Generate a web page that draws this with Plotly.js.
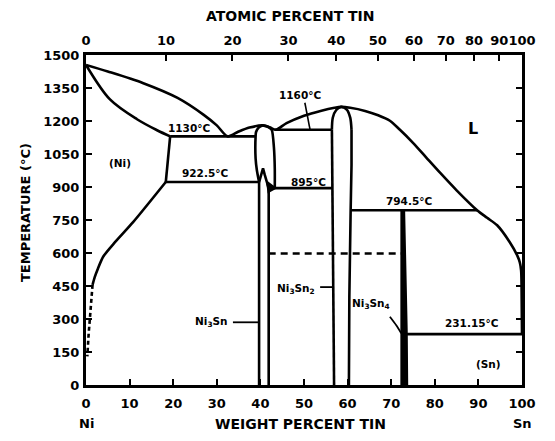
<!DOCTYPE html>
<html>
<head>
<meta charset="utf-8">
<script src="https://cdn.plot.ly/plotly-3.0.1.min.js"></script>
<style>
  html, body { margin: 0; padding: 0; background: #fff; }
  #chart { width: 555px; height: 441px; }
</style>
</head>
<body>
<div id="chart"></div>
<script>
// Ni–Sn equilibrium phase diagram (weight percent tin vs temperature)

// Axis ticks
const wtTicks = [0, 10, 20, 30, 40, 50, 60, 70, 80, 90, 100];
const tempTicks = [0, 150, 300, 450, 600, 750, 900, 1050, 1200, 1350, 1500];
const atTicks = [0, 10, 20, 30, 40, 50, 60, 70, 80, 90, 100];
const atomicMassNi = 58.69;
const atomicMassSn = 118.71;

// Liquidus, Ni side to Sn side
const liquidusWt = [0, 5, 13, 21, 27, 30, 32.5, 35, 37.5, 40.5, 42.3, 43.5, 46, 50, 54, 57, 58.5, 60.6, 64, 67, 69.7, 72, 75, 78, 81.2, 85, 89.7, 92, 94.3, 97.2, 98.9, 99.5, 99.8, 99.9, 100];
const liquidusT  = [1455, 1425, 1373, 1305, 1228, 1180, 1130, 1152, 1170, 1180, 1170, 1160, 1190, 1224, 1247, 1260, 1264, 1260, 1246, 1226, 1201, 1160, 1101, 1035, 965, 885, 794.5, 760, 726, 649, 589, 557, 520, 450, 232];

// (Ni) solidus and solvus
const niSolidusWt = [0, 5.5, 11.7, 16.3, 19.3];
const niSolidusT  = [1455, 1298, 1208, 1158, 1130];
const niSolvusHighWt = [19.3, 18.3];
const niSolvusHighT  = [1130, 922.5];
const niSolvusWt = [18.3, 10.8, 6.6, 4, 2.75, 2, 1.5];
const niSolvusT  = [922.5, 740, 648, 585, 530, 490, 455];
const niSolvusDashWt = [1.5, 1.0, 0.6, 0.3];
const niSolvusDashT  = [455, 340, 230, 130];

// Invariant reactions
const eut1130Wt = [19.3, 38.9];
const eut1130T  = [1130, 1130];
const eutd922Wt = [18.3, 39.7];
const eutd922T  = [922.5, 922.5];
const eut1160Wt = [43.3, 56.4];
const eut1160T  = [1160, 1160];
const line895Wt = [41.9, 56.5];
const line895T  = [895, 895];
const perit794Wt = [60.7, 89.7];
const perit794T  = [794.5, 794.5];
const eut231Wt = [73.6, 100];
const eut231T  = [231.15, 231.15];
const dash600Wt = [41.9, 72.4];
const dash600T  = [598, 598];

// Ni3Sn (high and low temperature) fields
const ni3SnHtLeftWt = [40.5, 39.6, 39.0, 38.9, 38.9, 39.2, 39.7];
const ni3SnHtLeftT  = [1180, 1170, 1150, 1130, 1030, 975, 922.5];
const ni3SnHtRightWt = [40.5, 41.6, 42.6, 43.1, 43.3, 43.3];
const ni3SnHtRightT  = [1180, 1175, 1160, 1080, 980, 895];
const ni3SnSpikeWt = [39.7, 40.6, 41.0, 41.9];
const ni3SnSpikeT  = [922.5, 985, 955, 895];
const ni3SnLtLeftWt = [39.7, 39.7];
const ni3SnLtLeftT  = [922.5, 0];
const ni3SnLtRightWt = [41.9, 41.9];
const ni3SnLtRightT  = [895, 0];
const ni3SnBlobWt = [41.6, 43.3, 41.9, 41.6];
const ni3SnBlobT  = [920, 895, 880, 920];

// Ni3Sn2 field
const ni3Sn2DomeWt = [56.4, 56.6, 57.4, 58.5, 59.8, 60.6, 60.9];
const ni3Sn2DomeT  = [1160, 1215, 1250, 1264, 1252, 1215, 1160];
const ni3Sn2RightWt = [60.9, 60.9, 60.7, 60.4, 60.3];
const ni3Sn2RightT  = [1160, 1000, 794.5, 400, 0];
const ni3Sn2LeftWt = [56.4, 56.5, 56.8, 56.9];
const ni3Sn2LeftT  = [1160, 895, 400, 0];

// Ni3Sn4 field
const ni3Sn4Wt = [72.4, 72.9, 73.5, 73.6, 72.4, 72.4];
const ni3Sn4T  = [794.5, 794.5, 240, 0, 0, 794.5];

// Label leaders
const lead1160Wt = [50.2, 51.4];
const lead1160T  = [1283, 1160];
const leadNi3SnWt = [33.7, 39.7];
const leadNi3SnT  = [285, 285];
const leadNi3Sn2Wt = [53.7, 56.8];
const leadNi3Sn2T  = [445, 445];
const leadNi3Sn4Wt = [69.7, 71.2, 72.3];
const leadNi3Sn4T  = [310, 270, 235];

// Text labels inside the field
const labelText = ['1130°C', '922.5°C', '1160°C', '895°C', '794.5°C', '231.15°C', '(Ni)', '(Sn)', 'Ni<sub>3</sub>Sn', 'Ni<sub>3</sub>Sn<sub>2</sub>', 'Ni<sub>3</sub>Sn<sub>4</sub>'];
const labelWt   = [23.6, 27.3, 49.1, 51.1, 74.1, 88.5, 7.8, 92.4, 28.7, 48.2, 65.4];
const labelT    = [1170, 962, 1318, 925, 835, 281, 1010, 95, 288, 438, 366];

const FONT = 'DejaVu Sans, Liberation Sans, Arial, sans-serif';
const W = 2.6;

function line(x, y, opts) {
  opts = opts || {};
  return Object.assign({
    x: x, y: y, type: 'scatter', mode: 'lines',
    line: {
      color: '#000', width: opts.width || W,
      shape: opts.smooth ? 'spline' : 'linear', smoothing: opts.smooth || 1,
      dash: opts.dash || 'solid'
    },
    hoverinfo: 'skip', showlegend: false
  }, opts.extra || {});
}

function atToWt(a) {
  const m = a * atomicMassSn;
  return 100 * m / (m + (100 - a) * atomicMassNi);
}

const traces = [
  line(liquidusWt, liquidusT, { smooth: 0.8 }),
  line(niSolidusWt, niSolidusT, { smooth: 0.9 }),
  line(niSolvusHighWt, niSolvusHighT),
  line(niSolvusWt, niSolvusT, { smooth: 0.7 }),
  line(niSolvusDashWt, niSolvusDashT, { dash: '4px,3px' }),
  line(eut1130Wt, eut1130T),
  line(eutd922Wt, eutd922T),
  line(eut1160Wt, eut1160T),
  line(line895Wt, line895T),
  line(perit794Wt, perit794T),
  line(eut231Wt, eut231T),
  line(dash600Wt, dash600T, { dash: '7px,5px' }),
  line(ni3SnHtLeftWt, ni3SnHtLeftT, { smooth: 0.6 }),
  line(ni3SnHtRightWt, ni3SnHtRightT, { smooth: 0.6 }),
  line(ni3SnSpikeWt, ni3SnSpikeT),
  line(ni3SnLtLeftWt, ni3SnLtLeftT),
  line(ni3SnLtRightWt, ni3SnLtRightT),
  line(ni3SnBlobWt, ni3SnBlobT, { extra: { fill: 'toself', fillcolor: '#000' } }),
  line(ni3Sn2DomeWt, ni3Sn2DomeT, { smooth: 0.8 }),
  line(ni3Sn2RightWt, ni3Sn2RightT),
  line(ni3Sn2LeftWt, ni3Sn2LeftT),
  line(ni3Sn4Wt, ni3Sn4T, { extra: { fill: 'toself', fillcolor: '#000' } }),
  line(lead1160Wt, lead1160T, { width: 1.6 }),
  line(leadNi3SnWt, leadNi3SnT, { width: 1.8 }),
  line(leadNi3Sn2Wt, leadNi3Sn2T, { width: 1.8 }),
  line(leadNi3Sn4Wt, leadNi3Sn4T, { width: 1.8, smooth: 0.8 }),
  // carrier for the atomic-percent axis
  { x: [0, 100], y: [null, null], xaxis: 'x2', yaxis: 'y', type: 'scatter', mode: 'lines', hoverinfo: 'skip', showlegend: false }
];

const annotations = labelText.map((t, i) => ({
  x: labelWt[i], y: labelT[i], xref: 'x', yref: 'y', text: t, showarrow: false,
  font: { family: FONT, size: 10.5, color: '#000', weight: 'bold' },
  xanchor: 'center', yanchor: 'middle'
}));
annotations.push(
  { x: 88.8, y: 1168, xref: 'x', yref: 'y', text: 'L', showarrow: false,
    font: { family: FONT, size: 16, color: '#000', weight: 'bold' } },
  { x: -0.14, y: 0.524, xref: 'paper', yref: 'paper', text: 'TEMPERATURE (°C)', textangle: -90,
    showarrow: false, xanchor: 'center', yanchor: 'middle',
    font: { family: FONT, size: 13, color: '#000', weight: 'bold' } },
  { x: 0.493, y: -0.118, xref: 'paper', yref: 'paper', text: 'WEIGHT PERCENT TIN',
    showarrow: false, xanchor: 'center', yanchor: 'middle',
    font: { family: FONT, size: 14, color: '#000', weight: 'bold' } },
  { x: 0.47, y: 1.118, xref: 'paper', yref: 'paper', text: 'ATOMIC PERCENT TIN',
    showarrow: false, xanchor: 'center', yanchor: 'middle',
    font: { family: FONT, size: 14, color: '#000', weight: 'bold' } },
  { x: 0, y: -0.118, xref: 'x', yref: 'paper', text: 'Ni',
    showarrow: false, xanchor: 'center', yanchor: 'middle',
    font: { family: FONT, size: 13, color: '#000', weight: 'bold' } },
  { x: 100, y: -0.118, xref: 'x', yref: 'paper', text: 'Sn',
    showarrow: false, xanchor: 'center', yanchor: 'middle',
    font: { family: FONT, size: 13, color: '#000', weight: 'bold' } }
);

const tickFont = { family: FONT, size: 13, color: '#000', weight: 'bold' };

const layout = {
  width: 555, height: 441,
  margin: { l: 86, r: 33, t: 55, b: 56 },
  paper_bgcolor: '#fff', plot_bgcolor: '#fff',
  showlegend: false,
  xaxis: {
    range: [0, 100], tickvals: wtTicks, ticktext: wtTicks.map(String), tickangle: 0,
    ticks: 'inside', ticklen: 6, tickwidth: 2, tickcolor: '#000',
    showline: true, linewidth: 3, linecolor: '#000', mirror: false,
    showgrid: false, zeroline: false, tickfont: tickFont, ticklabelstandoff: 4
  },
  xaxis2: {
    overlaying: 'x', side: 'top', anchor: 'y',
    range: [0, 100], tickvals: atTicks.map(atToWt), ticktext: atTicks.map(String), tickangle: 0,
    ticks: 'inside', ticklen: 6, tickwidth: 2, tickcolor: '#000',
    showline: true, linewidth: 3, linecolor: '#000',
    showgrid: false, zeroline: false, tickfont: tickFont, ticklabelstandoff: 2
  },
  yaxis: {
    range: [0, 1500], tickvals: tempTicks, ticktext: tempTicks.map(String),
    ticks: 'inside', ticklen: 6, tickwidth: 2, tickcolor: '#000',
    showline: true, linewidth: 3, linecolor: '#000', mirror: 'ticks',
    showgrid: false, zeroline: false, tickfont: tickFont, ticklabelstandoff: 1
  },
  annotations: annotations
};

Plotly.newPlot('chart', traces, layout, { staticPlot: true, displayModeBar: false });
</script>
</body>
</html>
